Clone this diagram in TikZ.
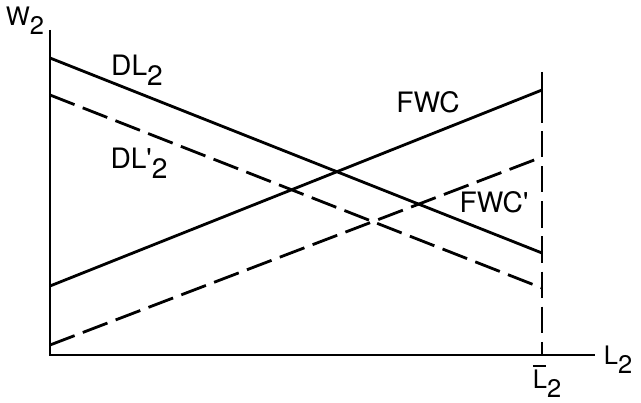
\documentclass[tikz,border=0pt]{standalone}
\usepackage{fontspec}
\setmainfont{TeX Gyre Heros}
\usetikzlibrary{positioning}
\newcommand{\lowsub}[1]{\raisebox{-0.7ex}{#1}}
\newcommand{\barL}{\rlap{\rule[0.84em]{0.52em}{0.9pt}}L}

\begin{document}
\begin{tikzpicture}[x=0.02cm,y=-0.02cm,line width=1.6pt,
  every node/.style={font=\fontsize{16}{18}\selectfont},
  axislabel/.style={font=\fontsize{14.5}{16}\selectfont},
  dashline/.style={dash pattern=on 15pt off 5pt}]
  \useasboundingbox (0,0) rectangle (641,402);
  % axes and the endowment line at L-bar
  \coordinate (O) at (50,355);
  \coordinate (Wtop) at (50,30);
  \coordinate (Lend) at (595,355);
  \coordinate (Ltop) at (542,72);
  \coordinate (Lmid) at (542,123);
  \coordinate (Ldash) at (542,131);
  \coordinate (Lbot) at (542,355);
  \draw (Wtop) -- (O) -- (Lend);
  \draw (Ltop) -- (Lmid);
  \draw[dashline] (Ldash) -- (Lbot);
  % demand and wage curves, before and after the shift
  \coordinate (dl0) at (50,58);   \coordinate (dl1) at (542,253);
  \coordinate (dlp0) at (50,95);  \coordinate (dlp1) at (542,288);
  \coordinate (fw0) at (50,286);  \coordinate (fw1) at (542,90);
  \coordinate (fwp0) at (50,345); \coordinate (fwp1) at (542,157);
  \draw (dl0) -- (dl1);
  \draw[dashline] (dlp0) -- (dlp1);
  \draw (fw0) -- (fw1);
  \draw[dashline] (fwp0) -- (fwp1);
  % labels
  \node[axislabel] (w2) at (25,21) {W\lowsub{2}};
  \node[axislabel] (l2) at (618,360) {L\lowsub{2}};
  \node[axislabel,anchor=base,inner ysep=0pt] (lbar) at (547,388) {\barL\lowsub{2}};
  \node (dl) at (137,70) {DL\lowsub{2}};
  \node (dlp) at (139,163) {DL\textquotesingle\lowsub{2}};
  \node (fwc) at (428,102) {FWC};
  \node (fwcp) at (494,202) {FWC\textquotesingle};
\end{tikzpicture}
\end{document}
